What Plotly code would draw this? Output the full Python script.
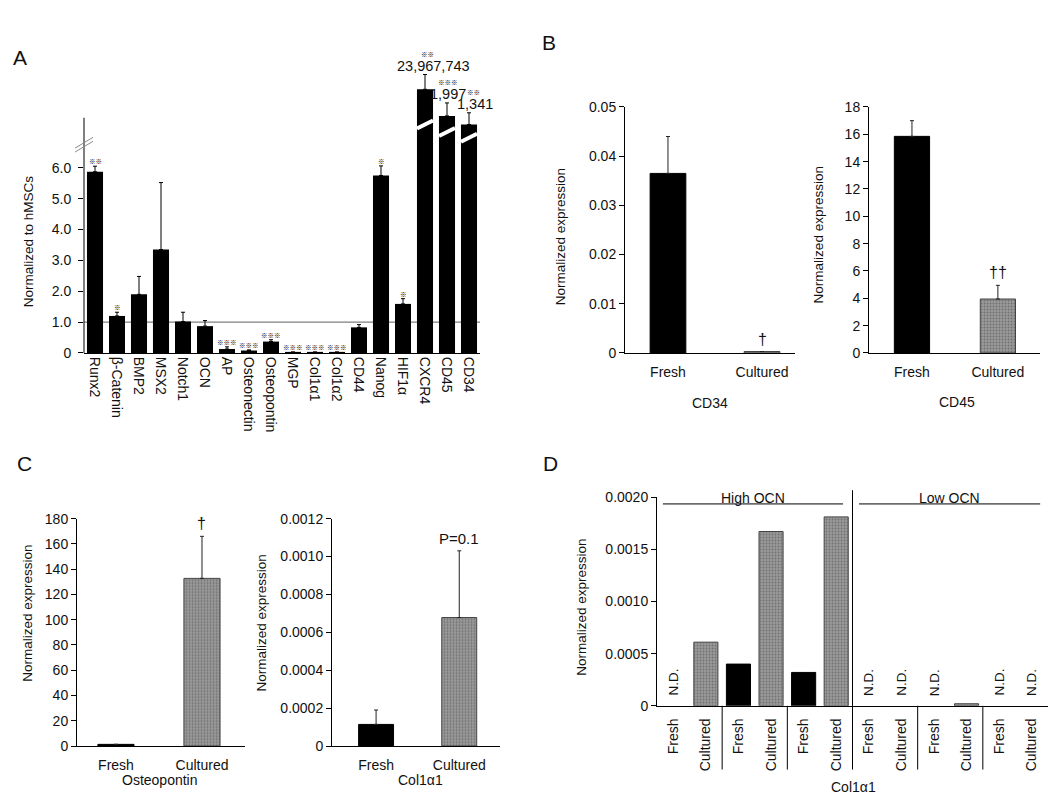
import plotly.graph_objects as go

W, H = 1050, 804
def px(x): return x / W
def py(y): return 1 - y / H

FONT = "Arial, Liberation Sans, sans-serif"
MARKFONT = "Noto Sans CJK JP, Noto Sans CJK SC, sans-serif"
INK = "#111111"

# ---------------- data ----------------
# Panel A (normalized to hMSCs)
genes_A = ["Runx2", "β-Catenin", "BMP2", "MSX2", "Notch1", "OCN", "AP", "Osteonectin",
           "Osteopontin", "MGP", "Col1α1", "Col1α2", "CD44", "Nanog", "HIF1α",
           "CXCR4", "CD45", "CD34"]
mean_A = [5.87, 1.20, 1.90, 3.35, 1.02, 0.87, 0.13, 0.08, 0.37, 0.03, 0.03, 0.03,
          0.83, 5.75, 1.59, 23967743, 1997, 1341]
err_A = [0.18, 0.12, 0.58, 2.17, 0.30, 0.18, 0.07, 0.02, 0.06, 0.0, 0.0, 0.0,
         0.09, 0.31, 0.17, None, None, None]
sig_A = ["※※", "※", "", "", "", "", "※※※", "※※※", "※※※", "※※※", "※※※", "※※※",
         "", "※", "※", "※※", "※※※", "※※"]
# bars above the axis break: drawn height and error on the broken scale
broken_height_A = {"CXCR4": 8.54, "CD45": 7.68, "CD34": 7.40}
broken_err_A = {"CXCR4": 0.48, "CD45": 0.42, "CD34": 0.38}
big_labels_A = {"CXCR4": "23,967,743", "CD45": "1,997", "CD34": "1,341"}

groups = ["Fresh", "Cultured"]
# Panel B
cd34_mean = [0.0365, 0.0003]
cd34_err = [0.0075, 0.0]
cd34_sig = ["", "†"]
cd45_mean = [15.85, 3.95]
cd45_err = [1.15, 1.0]
cd45_sig = ["", "††"]
# Panel C
opn_mean = [1.3, 132.7]
opn_err = [0.0, 33.3]
opn_sig = ["", "†"]
col_mean = [0.000114, 0.000678]
col_err = [0.000076, 0.000352]
col_sig = ["", "P=0.1"]
# Panel D
labels_D = ["Fresh", "Cultured"] * 6
values_D = [None, 0.00061, 0.00040, 0.00167, 0.00032, 0.00181,
            None, None, None, 0.00002, None, None]
nd_D = ["N.D.", "", "", "", "", "", "N.D.", "N.D.", "N.D.", "", "N.D.", "N.D."]

# ---------------- styles ----------------
BLACK = "black"
CULT_BG = "#9a9a9a"
CULT_LINE = "#444444"
MARKSIZE = 6.5

fig = go.Figure()

# ---- Panel A ----
plot_h = [broken_height_A.get(g, m) for g, m in zip(genes_A, mean_A)]
plot_e = [broken_err_A.get(g, e) for g, e in zip(genes_A, err_A)]
fig.add_trace(go.Bar(x=genes_A, y=plot_h, width=0.73, marker=dict(color=BLACK, line=dict(width=0)),
                     error_y=dict(type="data", array=plot_e, arrayminus=[0] * len(plot_e), symmetric=False,
                                  color=BLACK, thickness=1, width=2),
                     xaxis="x", yaxis="y", showlegend=False))

def tick_font(size=14):
    return dict(family=FONT, size=size, color=INK)

axis_common = dict(showgrid=False, zeroline=False, linecolor=BLACK, linewidth=1,
                   tickfont=tick_font(), tickcolor=BLACK, ticklen=5, tickwidth=1)
axis_noticklen = {k: v for k, v in axis_common.items() if k != "ticklen"}

layout = dict(
    width=W, height=H, autosize=False, margin=dict(l=0, r=0, t=0, b=0),
    paper_bgcolor="white", plot_bgcolor="white", bargap=0.2,
    xaxis=dict(domain=[px(84), px(480)], anchor="y", type="category", range=[-0.5, 17.5],
               showline=True, ticks="", tickangle=90, **axis_noticklen),
    yaxis=dict(domain=[py(352), py(56)], anchor="x", range=[0, 296 / 31.5],
               tickvals=[0, 1, 2, 3, 4, 5, 6], ticktext=["0", "1.0", "2.0", "3.0", "4.0", "5.0", "6.0"],
               showline=False, ticks="outside", ticklabelstandoff=4, **axis_common),
)

shapes = []
annotations = []

# reference line at 1.0
shapes.append(dict(type="line", xref="x domain", yref="y", x0=0, x1=1, y0=1, y1=1,
                   line=dict(color="#7f7f7f", width=1.2), layer="below"))
# y axis line up to the break
shapes.append(dict(type="line", xref="x domain", yref="y", x0=0, x1=0, y0=0, y1=240 / 31.5,
                   line=dict(color=BLACK, width=1)))
# break marks
for dy in (0, -4):
    shapes.append(dict(type="line", xref="paper", yref="paper", x0=px(75), x1=px(93),
                       y0=py(147 + dy), y1=py(136 + dy), line=dict(color="#8a8a8a", width=1)))
# white stripes across broken bars
stripe_center = {"CXCR4": 7.40, "CD45": 7.16, "CD34": 6.97}
for g, c in stripe_center.items():
    i = genes_A.index(g)
    shapes.append(dict(type="line", xref="x", yref="y", x0=i - 0.365, x1=i + 0.365,
                       y0=c - 0.13, y1=c + 0.13, line=dict(color="white", width=4)))

# significance marks A
big_shift = {"CXCR4": (8, 2), "CD45": (1, 1), "CD34": (6, 4)}
for i, g in enumerate(genes_A):
    top = plot_h[i] + (plot_e[i] or 0)
    if g in big_labels_A:
        dx, dx2 = big_shift[g]
        annotations.append(dict(x=g, y=top, xref="x", yref="y", text=big_labels_A[g], showarrow=False,
                                yanchor="bottom", xshift=dx, yshift=-1,
                                font=dict(family=FONT, size=14.5, color=INK)))
        annotations.append(dict(x=g, y=top, xref="x", yref="y", text=sig_A[i], showarrow=False,
                                yanchor="bottom", xshift=dx2, yshift=14,
                                font=dict(family=MARKFONT, size=MARKSIZE, color="black")))
    elif sig_A[i]:
        annotations.append(dict(x=g, y=top, xref="x", yref="y", text=sig_A[i], showarrow=False,
                                yanchor="bottom", yshift=-2,
                                font=dict(family=MARKFONT, size=MARKSIZE, color="black")))

# ---- two-bar panels ----
def two_bar(idx, means, errs, sigs, xdom, ydom, xrange, yrange, tickvals, ticktext, width, sigsize=16):
    xa = "x%d" % idx
    ya = "y%d" % idx
    fig.add_trace(go.Bar(x=groups, y=means, width=width,
                         marker=dict(color=[BLACK, CULT_BG],
                                     line=dict(color=[BLACK, CULT_LINE], width=1),
                                     pattern=dict(shape=["", "."], fgcolor="white", bgcolor=[BLACK, CULT_BG],
                                                  size=3, solidity=0.3)),
                         error_y=dict(type="data", array=errs, arrayminus=[0, 0], symmetric=False,
                                      color="#222", thickness=1, width=2),
                         xaxis=xa, yaxis=ya, showlegend=False))
    layout["xaxis%d" % idx] = dict(domain=xdom, anchor=ya, type="category", range=xrange,
                                   showline=True, ticks="", ticklabelstandoff=6, **axis_noticklen)
    layout["yaxis%d" % idx] = dict(domain=ydom, anchor=xa, range=yrange, tickvals=tickvals, ticktext=ticktext,
                                   showline=True, ticks="outside", **axis_common)
    for g, m, e, s in zip(groups, means, errs, sigs):
        if s:
            annotations.append(dict(x=g, y=m + e, xref=xa, yref=ya, text=s, showarrow=False,
                                    yanchor="bottom", yshift=2,
                                    font=dict(family=FONT, size=sigsize, color=INK)))

two_bar(2, cd34_mean, cd34_err, cd34_sig, [px(625), px(795)], [py(352), py(101)],
        [-0.457, 1.351], [0, 0.05], [0, 0.01, 0.02, 0.03, 0.04, 0.05],
        ["0", "0.01", "0.02", "0.03", "0.04", "0.05"], 0.38)
two_bar(3, cd45_mean, cd45_err, cd45_sig, [px(869), px(1040)], [py(352), py(101)],
        [-0.5, 1.49], [0, 18], list(range(0, 19, 2)), [str(v) for v in range(0, 19, 2)], 0.41)
two_bar(4, opn_mean, opn_err, opn_sig, [px(77), px(245)], [py(753), py(521)],
        [-0.453, 1.5], [0, 180], list(range(0, 181, 20)), [str(v) for v in range(0, 181, 20)], 0.42)
two_bar(5, col_mean, col_err, col_sig, [px(332), px(500)], [py(753), py(521)],
        [-0.53, 1.49], [0, 0.0012], [0, 0.0002, 0.0004, 0.0006, 0.0008, 0.0010, 0.0012],
        ["0", "0.0002", "0.0004", "0.0006", "0.0008", "0.0010", "0.0012"], 0.42, sigsize=15)

# ---- Panel D ----
xs_D = list(range(len(labels_D)))
is_fresh = [l == "Fresh" for l in labels_D]
fig.add_trace(go.Bar(x=xs_D, y=values_D, width=0.74,
                     marker=dict(color=[BLACK if f else CULT_BG for f in is_fresh],
                                 line=dict(color=[BLACK if f else CULT_LINE for f in is_fresh], width=1),
                                 pattern=dict(shape=["" if f else "." for f in is_fresh],
                                              fgcolor="white",
                                              bgcolor=[BLACK if f else CULT_BG for f in is_fresh],
                                              size=3, solidity=0.3)),
                     xaxis="x6", yaxis="y6", showlegend=False))
layout["xaxis6"] = dict(domain=[px(657), px(1048)], anchor="y6", range=[-0.5, 11.5],
                        tickvals=xs_D, ticktext=labels_D, tickangle=-90, showline=True, ticks="",
                        ticklabelstandoff=6, **axis_noticklen)
layout["yaxis6"] = dict(domain=[py(712), py(499)], anchor="x6", range=[0, 0.002],
                        tickvals=[0, 0.0005, 0.001, 0.0015, 0.002],
                        ticktext=["0", "0.0005", "0.0010", "0.0015", "0.0020"],
                        showline=True, ticks="outside", **axis_common)
for i, t in enumerate(nd_D):
    if t:
        annotations.append(dict(x=i, y=0, xref="x6", yref="y6", text=t, showarrow=False, textangle=-90,
                                yanchor="bottom", yshift=8, font=dict(family=FONT, size=13.5, color=INK)))
# separators
for xsep in (1.5, 3.5, 7.5, 9.5):
    shapes.append(dict(type="line", xref="x6", yref="paper", x0=xsep, x1=xsep, y0=py(712), y1=py(777),
                       line=dict(color=BLACK, width=1)))
shapes.append(dict(type="line", xref="x6", yref="paper", x0=5.5, x1=5.5, y0=py(492), y1=py(777),
                   line=dict(color=BLACK, width=1)))
# group lines
for (a, b, txt) in ((-0.32, 5.21, "High OCN"), (5.7, 11.26, "Low OCN")):
    shapes.append(dict(type="line", xref="x6", yref="paper", x0=a, x1=b, y0=py(506), y1=py(506),
                       line=dict(color=BLACK, width=1)))
    annotations.append(dict(x=(a + b) / 2, y=py(500), xref="x6", yref="paper", text=txt, showarrow=False,
                            yanchor="middle", font=dict(family=FONT, size=14, color=INK)))

# ---- titles / labels ----
def label(x, y, text, size=14, angle=0, family=FONT):
    annotations.append(dict(x=px(x), y=py(y), xref="paper", yref="paper", text=text, showarrow=False,
                            textangle=angle, xanchor="center", yanchor="middle",
                            font=dict(family=family, size=size, color=INK)))

label(20, 50, "A", 21)
label(549, 35, "B", 21)
label(24, 465, "C", 21)
label(550, 465, "D", 21)
label(28, 238, "Normalized to hMSCs", 13.5, -90)
label(560, 234, "Normalized expression", 13.5, -90)
label(818, 232, "Normalized expression", 13.5, -90)
label(28, 618, "Normalized expression", 13.5, -90)
label(262, 628, "Normalized expression", 13.5, -90)
label(582, 612, "Normalized expression", 13.5, -90)
label(710, 403, "CD34", 14)
label(957, 402, "CD45", 14)
label(160, 788, "Osteopontin", 14)
label(420, 788, "Col1α1", 14)
label(853, 795, "Col1α1", 14)

layout["shapes"] = shapes
layout["annotations"] = annotations
fig.update_layout(**layout)

fig.write_html("out.html", config={"displayModeBar": False},
               post_script="document.body.style.margin='0';")
